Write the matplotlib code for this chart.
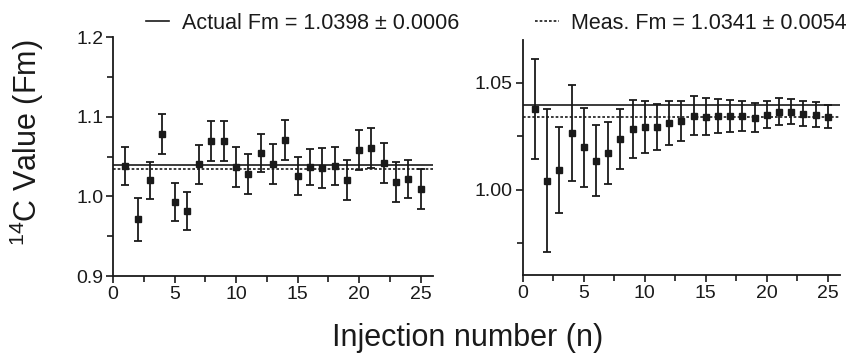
import matplotlib
matplotlib.use("Agg")
import matplotlib.pyplot as plt
from matplotlib.ticker import MultipleLocator, FormatStrFormatter
import numpy as np

plt.rcParams["font.family"] = ["Liberation Sans", "DejaVu Sans"]
plt.rcParams["mathtext.fontset"] = "custom"
plt.rcParams["mathtext.rm"] = "Liberation Sans"
plt.rcParams["mathtext.it"] = "Liberation Sans"

# Data
injection = np.arange(1, 26)

single_fm = [1.038, 0.971, 1.020, 1.078, 0.993, 0.982, 1.040, 1.069, 1.069, 1.037,
             1.028, 1.054, 1.041, 1.071, 1.026, 1.037, 1.036, 1.038, 1.020, 1.058,
             1.061, 1.042, 1.018, 1.022, 1.009]
single_err = [0.024, 0.027, 0.023, 0.025, 0.024, 0.024, 0.025, 0.025, 0.025, 0.025,
              0.025, 0.024, 0.025, 0.025, 0.024, 0.023, 0.025, 0.024, 0.025, 0.025,
              0.025, 0.025, 0.025, 0.024, 0.025]

cumul_fm = [1.0376, 1.0041, 1.0092, 1.0266, 1.0197, 1.0135, 1.0171, 1.0237, 1.0285, 1.0293,
            1.0292, 1.0313, 1.0320, 1.0346, 1.0342, 1.0343, 1.0343, 1.0345, 1.0337, 1.0350,
            1.0364, 1.0365, 1.0356, 1.0351, 1.0342]
cumul_err = [0.0235, 0.0335, 0.0200, 0.0225, 0.0187, 0.0165, 0.0145, 0.0140, 0.0135, 0.0120,
             0.0108, 0.0102, 0.0094, 0.0091, 0.0085, 0.0080, 0.0075, 0.0070, 0.0067, 0.0064,
             0.0063, 0.0060, 0.0059, 0.0057, 0.0053]

actual_fm = 1.0398
meas_fm = 1.0341
actual_label = "Actual Fm = 1.0398 ± 0.0006"
meas_label = "Meas. Fm = 1.0341 ± 0.0054"

fig = plt.figure(figsize=(8.52, 3.56), dpi=100)
ax1 = fig.add_axes([0.1326, 0.2247, 0.3756, 0.6713])
ax2 = fig.add_axes([0.6135, 0.2275, 0.3724, 0.6600])

dotted = (0, (1.6, 1.2))

for ax, y, e in [(ax1, single_fm, single_err), (ax2, cumul_fm, cumul_err)]:
    ax.errorbar(injection, y, yerr=e, fmt="s", color="#1a1a1a", markersize=4.6,
                elinewidth=1.3, capsize=3, capthick=1.3, zorder=3)
    ax.axhline(actual_fm, color="#1a1a1a", lw=1.2, ls="-", zorder=2)
    ax.axhline(meas_fm, color="#1a1a1a", lw=1.2, ls=dotted, zorder=2)
    ax.set_xlim(0, 26)
    ax.xaxis.set_major_locator(MultipleLocator(5))
    ax.xaxis.set_minor_locator(MultipleLocator(2.5))
    for s in ["top", "right"]:
        ax.spines[s].set_visible(False)
    for s in ["left", "bottom"]:
        ax.spines[s].set_linewidth(1.3)
        ax.spines[s].set_color("#1a1a1a")
    ax.tick_params(which="both", direction="out", width=1.2, colors="#1a1a1a",
                   labelsize=14, pad=2)
    ax.tick_params(which="major", length=5)
    ax.tick_params(which="minor", length=4)

ax1.set_ylim(0.9, 1.2)
ax1.yaxis.set_major_locator(MultipleLocator(0.1))
ax1.yaxis.set_minor_locator(MultipleLocator(0.05))
ax1.yaxis.set_major_formatter(FormatStrFormatter("%.1f"))

ax2.set_ylim(0.96, 1.07)
ax2.yaxis.set_major_locator(MultipleLocator(0.05))
ax2.yaxis.set_minor_locator(MultipleLocator(0.025))
ax2.yaxis.set_major_formatter(FormatStrFormatter("%.2f"))

fig.text(0.031, 0.60, r"$^{14}$C Value (Fm)", rotation=90, ha="center", va="center",
         fontsize=22, color="#1a1a1a")
fig.text(0.549, 0.05, "Injection number (n)", ha="center", va="center",
         fontsize=22, color="#1a1a1a")

h1 = plt.Line2D([], [], color="#1a1a1a", lw=1.2, ls="-")
h2 = plt.Line2D([], [], color="#1a1a1a", lw=1.2, ls=dotted)
fig.legend([h1, h2], [actual_label, meas_label], loc="center left",
           bbox_to_anchor=(0.171, 0.935), ncol=2, frameon=False, fontsize=15.5,
           handlelength=1.1, handletextpad=0.6, columnspacing=3.5, borderpad=0,
           borderaxespad=0, labelcolor="#1a1a1a")

fig.savefig("out.png", dpi=100)
